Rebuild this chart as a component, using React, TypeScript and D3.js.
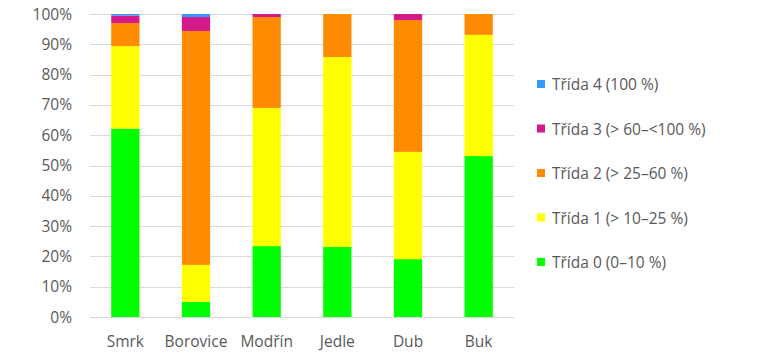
import { useEffect, useRef } from 'react';
import * as d3 from 'd3';

const categories = ['Smrk', 'Borovice', 'Modřín', 'Jedle', 'Dub', 'Buk'];
const trida0 = [62.2, 5.0, 23.4, 23.1, 19.1, 53.1];
const trida1 = [27.2, 12.2, 45.6, 62.7, 35.4, 40.0];
const trida2 = [7.6, 77.2, 30.0, 14.2, 43.5, 6.9];
const trida3 = [2.5, 4.6, 1.0, 0, 2.0, 0];
const trida4 = [0.5, 1.0, 0, 0, 0, 0];
const seriesNames = [
  'Třída 0 (0–10 %)',
  'Třída 1 (> 10–25 %)',
  'Třída 2 (> 25–60 %)',
  'Třída 3 (> 60–<100 %)',
  'Třída 4 (100 %)',
];
const yTicks = [0, 10, 20, 30, 40, 50, 60, 70, 80, 90, 100];

const colors = ['#00ff00', '#ffff00', '#ff8c00', '#d6198a', '#3399ff'];

export default function App() {
  const svgRef = useRef<SVGSVGElement>(null);

  useEffect(() => {
    const width = 766;
    const height = 363;
    const margin = { top: 14, right: 252, bottom: 46, left: 90 };

    const svg = d3.select(svgRef.current);
    svg.selectAll('*').remove();
    svg.attr('width', width).attr('height', height);

    const font = 'Open Sans, sans-serif';
    const fontSize = 15.5;
    const textColor = '#595959';

    const series = [trida0, trida1, trida2, trida3, trida4];
    const table = categories.map((c, i) => {
      const row: any = { name: c };
      series.forEach((s, k) => (row['s' + k] = s[i]));
      return row;
    });
    const keys = series.map((_, k) => 's' + k);
    const stacked = d3.stack().keys(keys)(table);

    const x = d3
      .scaleBand()
      .domain(categories)
      .range([margin.left, width - margin.right])
      .paddingInner(0.6)
      .paddingOuter(0.3);

    const y = d3
      .scaleLinear()
      .domain([0, 100])
      .range([height - margin.bottom, margin.top]);

    // mřížka
    svg
      .append('g')
      .selectAll('line')
      .data(yTicks)
      .enter()
      .append('line')
      .attr('x1', margin.left)
      .attr('x2', width - margin.right)
      .attr('y1', (d) => Math.round(y(d)) + 0.5)
      .attr('y2', (d) => Math.round(y(d)) + 0.5)
      .attr('stroke', '#d9d9d9')
      .attr('stroke-width', 1);

    // popisky osy y
    svg
      .append('g')
      .selectAll('text')
      .data(yTicks)
      .enter()
      .append('text')
      .attr('x', 72)
      .attr('y', (d) => y(d))
      .attr('dy', '0.36em')
      .attr('text-anchor', 'end')
      .attr('font-family', font)
      .attr('font-size', fontSize)
      .attr('fill', textColor)
      .text((d) => d + '%');

    // sloupce
    svg
      .append('g')
      .selectAll('g')
      .data(stacked)
      .enter()
      .append('g')
      .attr('fill', (_, i) => colors[i])
      .selectAll('rect')
      .data((d) => d)
      .enter()
      .append('rect')
      .attr('x', (d) => x(d.data.name as string)!)
      .attr('width', x.bandwidth())
      .attr('y', (d) => y(d[1]))
      .attr('height', (d) => y(d[0]) - y(d[1]));

    // popisky osy x
    svg
      .append('g')
      .selectAll('text')
      .data(categories)
      .enter()
      .append('text')
      .attr('x', (d) => x(d)! + x.bandwidth() / 2)
      .attr('y', 347)
      .attr('text-anchor', 'middle')
      .attr('font-family', font)
      .attr('font-size', fontSize)
      .attr('fill', textColor)
      .text((d) => d);

    // legenda (od třídy 4 shora)
    const legendY = d3
      .scalePoint()
      .domain(seriesNames.slice().reverse())
      .range([84, 262]);

    const legend = svg
      .append('g')
      .selectAll('g')
      .data(seriesNames.map((n, i) => ({ n, i })))
      .enter()
      .append('g')
      .attr('transform', (d) => `translate(537, ${legendY(d.n)})`);

    legend
      .append('rect')
      .attr('x', 0)
      .attr('y', -4)
      .attr('width', 8)
      .attr('height', 8)
      .attr('fill', (d) => colors[d.i]);

    legend
      .append('text')
      .attr('x', 15)
      .attr('y', 6)
      .attr('font-family', font)
      .attr('font-size', fontSize)
      .attr('fill', textColor)
      .text((d) => d.n);
  }, []);

  return (
    <div style={{ position: 'absolute', left: 0, top: 0 }}>
      <svg ref={svgRef}></svg>
    </div>
  );
}
